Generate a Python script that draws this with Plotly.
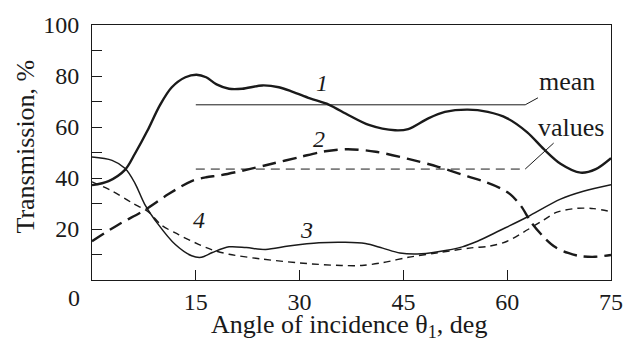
import plotly.graph_objects as go

# Angle of incidence (deg) and transmission (%) for the four curves
angle_1 = [0, 2.4, 4.8, 6.2, 8, 9.8, 11.5, 13.5, 15.1, 16.5, 18, 19.8, 21.7, 24.6,
           27, 29, 31.5, 34.2, 37.1, 40, 43.8, 45.7, 48.6, 51, 54.3, 57.2, 60, 62.9,
           65.3, 67.7, 70.6, 72.8, 75]
trans_1 = [37.2, 38.8, 43.3, 49.5, 58.5, 68.5, 75.5, 79.5, 80.5, 79.5, 76.7, 75, 75,
           76.3, 75.6, 73.8, 71.2, 68.8, 64.6, 60.8, 58.7, 59.2, 63.4, 65.9, 66.8,
           65.9, 63.4, 57.9, 51.3, 45.6, 42.1, 43.5, 47.8]

angle_2 = [0, 3.8, 7.6, 11, 14.4, 16.5, 18.4, 22, 26, 30, 33.7, 37, 41, 45.7, 50,
           54.3, 57, 59, 60.5, 62, 63.5, 65.4, 67, 68.8, 70.5, 72.7, 75]
trans_2 = [15.2, 21.7, 27.4, 33.6, 38.8, 40.3, 41, 43, 45.6, 48.2, 50.5, 51.3, 50.3,
           47.5, 44.4, 40.6, 38.3, 36, 33.5, 29, 22.5, 16.5, 12.8, 10.6, 9.4, 9.1, 9.8]

angle_3 = [0, 2.9, 4.8, 6.2, 7.6, 9.6, 12, 14.4, 15.8, 17.4, 19.8, 22.3, 25.1, 28.4,
           32.8, 36.6, 39.5, 42, 44.5, 47, 50, 53.5, 55.7, 59, 62.9, 67.7, 71, 75]
trans_3 = [48.2, 46.9, 43.7, 38, 29.8, 21.7, 14, 9.5, 8.9, 10.8, 13, 12.7, 12, 13.3,
           14.6, 14.8, 14.3, 12.5, 10.6, 10.2, 11.1, 13, 15.2, 19.5, 24.7, 31.7, 34.8,
           37.4]

angle_4 = [0, 2.9, 5.7, 8.2, 10, 12.5, 15.4, 17.4, 19.8, 24.6, 31.8, 36, 39, 42, 45.7,
           50, 54.8, 57.5, 60, 63, 65.3, 67.2, 70.1, 72.5, 75]
trans_4 = [38.5, 34.9, 30.4, 26.6, 21.6, 17.8, 14, 11.8, 10.1, 8.2, 6.3, 5.7, 5.7, 6.8,
           8.9, 10.7, 12.6, 13.3, 15.2, 19.8, 23.6, 26.6, 28.1, 28, 26.8]

# Mean transmission over the 15..62.6 deg interval
mean_span = [15, 62.6]
mean_1 = 68.7
mean_2 = 43.5

x_ticks = [15, 30, 45, 60, 75]
y_ticks = [0, 10, 20, 30, 40, 50, 60, 70, 80, 90, 100]
y_ticktext = ["", "", "20", "", "40", "", "60", "", "80", "", "100"]

INK = "#1a1a1a"
FONT = "Liberation Serif, Times New Roman, serif"

# plot-area geometry in pixels, used to place paper-referenced text
L, R, T, B = 92, 614, 17, 280


def px_x(px):
    return (px - L) / (R - L)


def px_y(py):
    return (B - py) / (B - T)


fig = go.Figure()


def curve(x, y, width, dash="solid"):
    fig.add_trace(go.Scatter(
        x=x, y=y, mode="lines",
        line=dict(color=INK, width=width, dash=dash, shape="spline", smoothing=0.9),
        showlegend=False, hoverinfo="skip"))


curve(angle_1, trans_1, 2.4)
curve(angle_2, trans_2, 2.4, "14px,7px")
curve(angle_3, trans_3, 1.5)
curve(angle_4, trans_4, 1.4, "7px,5px")

# mean-value lines
fig.add_trace(go.Scatter(x=mean_span, y=[mean_1, mean_1], mode="lines",
                         line=dict(color=INK, width=1), showlegend=False, hoverinfo="skip"))
fig.add_trace(go.Scatter(x=mean_span, y=[mean_2, mean_2], mode="lines",
                         line=dict(color=INK, width=1, dash="9px,6px"),
                         showlegend=False, hoverinfo="skip"))


def label(text, x, y, size=24):
    fig.add_annotation(x=x, y=y, xref="x", yref="y", text=text, showarrow=False,
                       xanchor="center", yanchor="middle",
                       font=dict(family=FONT, size=size, color=INK))


label("<i>1</i>", 33.2, 77.2)
label("<i>2</i>", 32.8, 55.1)
label("<i>3</i>", 31.0, 19.8)
label("<i>4</i>", 15.5, 23.6)

# callouts pointing to the ends of the mean lines
for txt, yv, ax, ay in [("mean", mean_1, 42, -23), ("values", mean_2, 46, -42)]:
    fig.add_annotation(x=mean_span[1], y=yv, xref="x", yref="y", text=txt,
                       showarrow=True, arrowhead=0, arrowwidth=1, arrowcolor=INK,
                       ax=ax, ay=ay, standoff=0,
                       font=dict(family=FONT, size=26, color=INK))


def paper_text(text, px, py, angle=0, size=24):
    fig.add_annotation(x=px_x(px), y=px_y(py), xref="paper", yref="paper",
                       text=text, textangle=angle, showarrow=False,
                       xanchor="center", yanchor="middle",
                       font=dict(family=FONT, size=size, color=INK))


# axis titles and the shared origin label
paper_text("Angle of incidence θ<sub>1</sub>, deg", 350, 327, size=26)
paper_text("Transmission, %", 25, 142, angle=-90, size=26)
paper_text("0", 74, 299)

axis_common = dict(showline=True, mirror=True, linecolor=INK, linewidth=1,
                   ticks="inside", ticklen=10, tickcolor=INK, tickwidth=1,
                   showgrid=False, zeroline=False,
                   tickfont=dict(family=FONT, size=24, color=INK))

fig.update_layout(
    width=635, height=349,
    margin=dict(l=L, r=635 - R, t=T, b=349 - B),
    paper_bgcolor="white", plot_bgcolor="white",
    xaxis=dict(range=[0, 75], tickvals=x_ticks, ticklabelstandoff=0, **axis_common),
    yaxis=dict(range=[0, 100], tickvals=y_ticks, ticktext=y_ticktext,
               ticklabelstandoff=7, **axis_common),
)

fig.write_html("out.html")
